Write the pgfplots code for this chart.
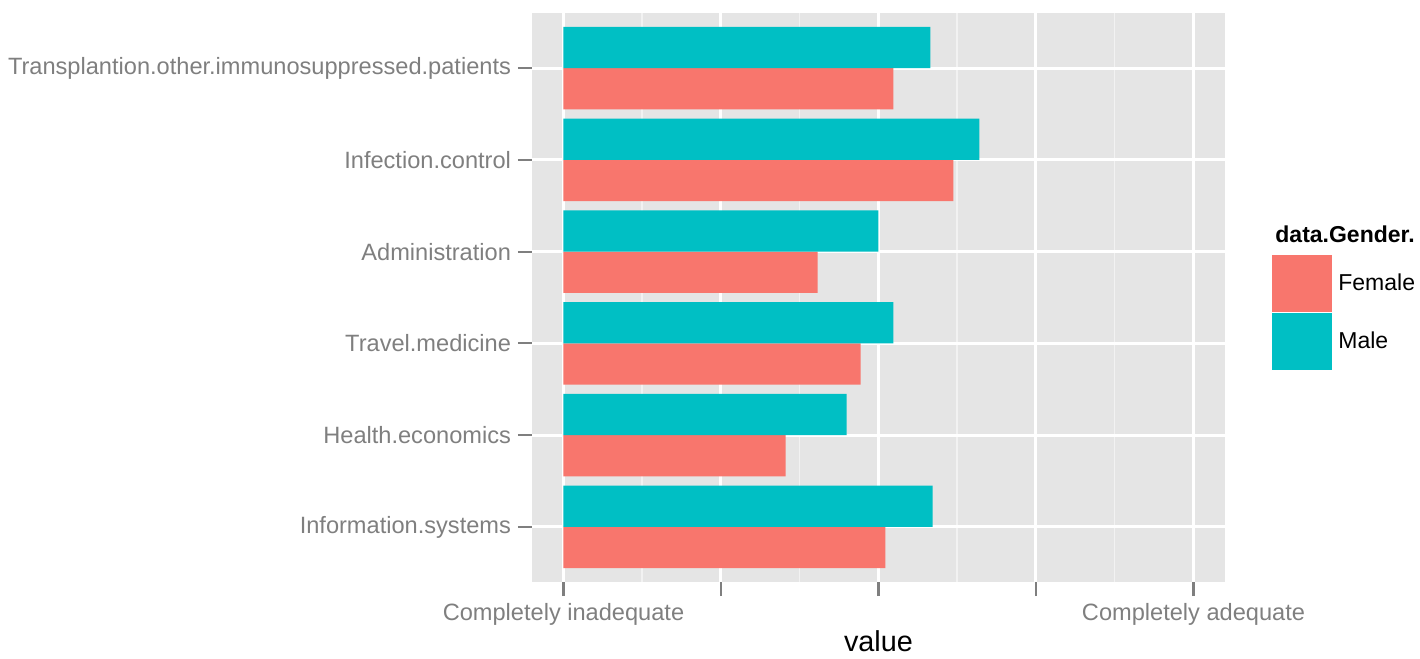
\documentclass[border=0pt]{standalone}
\usepackage{fontspec}
\setmainfont{Liberation Sans}
\usepackage{pgfplots}
\pgfplotsset{compat=1.18}
\definecolor{female}{HTML}{F8766D}
\definecolor{male}{HTML}{00BFC4}
\definecolor{panel}{HTML}{E5E5E5}
\definecolor{minorgrid}{HTML}{F2F2F2}
\definecolor{grey50}{HTML}{7F7F7F}
\begin{document}
\begin{tikzpicture}
\useasboundingbox (0,0) rectangle (710pt,329.5pt);
\begin{axis}[
    at={(266pt,38.5pt)}, anchor=south west,
    scale only axis, width=346.5pt, height=284.5pt,
    xmin=-0.2, xmax=4.2, ymin=0.4, ymax=6.6,
    axis background/.style={fill=panel},
    axis line style={draw=none},
    xtick={0,1,2,3,4},
    xticklabels={Completely inadequate,{},{},{},Completely adequate},
    minor xtick={0.5,1.5,2.5,3.5},
    ytick={1,2,3,4,5,6},
    yticklabels={Information.systems,Health.economics,Travel.medicine,Administration,Infection.control,Transplantion.other.immunosuppressed.patients},
    xtick pos=bottom, ytick pos=left,
    tick align=outside,
    major tick length=7pt, minor tick length=0pt,
    major tick style={draw=grey50, line width=1.1pt},
    grid=both,
    major grid style={draw=white, line width=1.5pt},
    minor grid style={draw=minorgrid, line width=0.75pt},
    tick label style={font=\fontsize{11.8}{14}\selectfont, text=grey50},
    xlabel={value},
    xlabel style={font=\fontsize{14.4}{17}\selectfont, yshift=4pt},
    legend style={at={(axis description cs:1.0678,0.5747)}, anchor=north west,
        draw=none, fill=none, inner sep=0pt, row sep=0.5pt, column sep=3pt,
        font=\fontsize{11.5}{13}\selectfont, nodes={inner sep=0pt}},
    legend cell align=left,
    legend image code/.code={\draw[#1,draw=none] (0pt,-14.25pt) rectangle (30pt,14.25pt);},
]
\addplot[xbar, bar width=0.45, bar shift=-0.225, fill=female, draw=none]
    coordinates {(2.044,1) (1.41,2) (1.886,3) (1.613,4) (2.476,5) (2.095,6)};
\addlegendentry{Female}
\addplot[xbar, bar width=0.45, bar shift=0.225, fill=male, draw=none]
    coordinates {(2.343,1) (1.797,2) (2.095,3) (2.00,4) (2.64,5) (2.33,6)};
\addlegendentry{Male}
\end{axis}
\node[anchor=base west, inner sep=0pt, font=\fontsize{11.5}{13}\selectfont\bfseries] at (637.5pt,208pt) {data.Gender.};
\end{tikzpicture}
\end{document}
